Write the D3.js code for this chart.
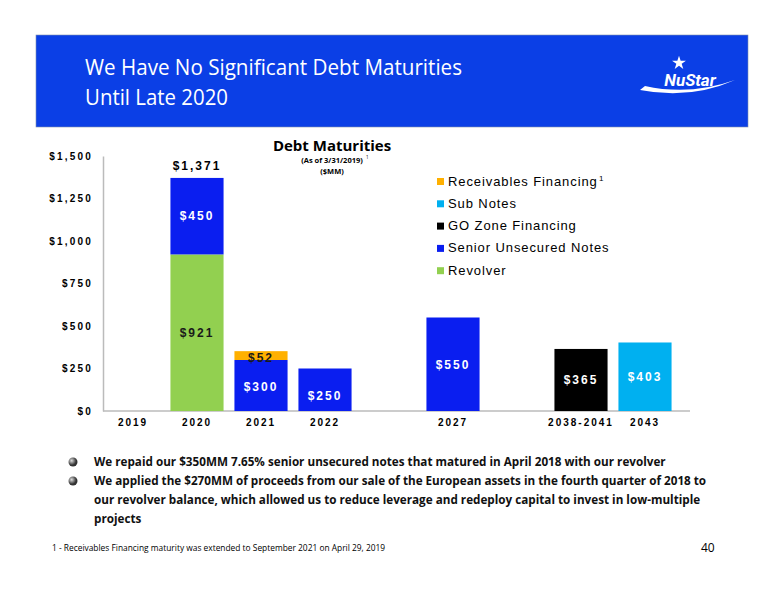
<!DOCTYPE html>
<html><head><meta charset="utf-8">
<script src="https://cdn.jsdelivr.net/npm/d3@7"></script>
<style>body{margin:0;background:#fff}svg{display:block}</style>
</head><body>
<script>
const categories = ["2019","2020","2021","2022","gap1","2027","gap2","2038-2041","2043"];
const seriesNames = ["Revolver","Senior Unsecured Notes","GO Zone Financing","Sub Notes","Receivables Financing"];
const revolver   = [0,921,0,0,0,0,0,0,0];
const senior     = [0,450,300,250,0,550,0,0,0];
const goZone     = [0,0,0,0,0,0,0,365,0];
const subNotes   = [0,0,0,0,0,0,0,0,403];
const receivables= [0,0,52,0,0,0,0,0,0];
const yTicks = [0,250,500,750,1000,1250,1500];
const colors = {"Revolver":"#92D050","Senior Unsecured Notes":"#0A1EF0","GO Zone Financing":"#000000","Sub Notes":"#00B0F0","Receivables Financing":"#FFB000"};
const seriesData = {"Revolver":revolver,"Senior Unsecured Notes":senior,"GO Zone Financing":goZone,"Sub Notes":subNotes,"Receivables Financing":receivables};

const W=776,H=600;
const svg=d3.select("body").append("svg").attr("width",W).attr("height",H);
svg.append("rect").attr("x",36).attr("y",35).attr("width",712).attr("height",92).attr("fill","#0B3FE6").attr("stroke","#7f8fb0").attr("stroke-width",0.6);
const ht=svg.append("text").attr("fill","#fff").attr("font-family","'Open Sans',sans-serif").attr("font-size",21);
ht.append("tspan").attr("x",85).attr("y",75).attr("textLength",377).attr("lengthAdjust","spacingAndGlyphs").text("We Have No Significant Debt Maturities");
ht.append("tspan").attr("x",85).attr("y",105).attr("textLength",143).attr("lengthAdjust","spacingAndGlyphs").text("Until Late 2020");
svg.append("text").attr("x",690).attr("y",86).attr("text-anchor","middle").attr("fill","#fff").attr("font-family","Roboto,sans-serif").attr("font-weight","bold").attr("font-style","italic").attr("font-size",17).text("NuStar");
svg.append("path").attr("d","M640,90 Q690,100 735,80 Q690,96 645,86 Z").attr("fill","#fff");
svg.append("path").attr("d",d3.symbol(d3.symbolStar,60)()).attr("transform","translate(679,63)").attr("fill","#fff");

const x=d3.scaleBand().domain(categories).range([101,677]).paddingInner(0.17).paddingOuter(0.085);
const y=d3.scaleLinear().domain([0,1500]).range([411,156]);
const g=svg.append("g");
const ya=g.append("g").attr("transform","translate(103,0)").call(d3.axisLeft(y).tickValues(yTicks).tickSize(0).tickFormat(d=>"$"+d3.format(",")(d)));
ya.select(".domain").attr("stroke","#bbb").attr("stroke-width",1.5);
ya.selectAll("text").attr("x",-10).attr("font-family","Arial,sans-serif").attr("font-weight","bold").attr("font-size",10).attr("letter-spacing",2.2).attr("fill","#000");
const xa=g.append("g").attr("transform","translate(0,411)").call(d3.axisBottom(x).tickSize(0).tickFormat(d=>d.startsWith("gap")?"":d));
xa.select(".domain").attr("stroke","#bbb").attr("stroke-width",1.5).attr("d","M103,0H690");
xa.selectAll("text").attr("dy",12).attr("font-family","Arial,sans-serif").attr("font-weight","bold").attr("font-size",10).attr("letter-spacing",2).attr("fill","#000");

const stack=d3.stack().keys(seriesNames)
  (categories.map((c,i)=>{const o={cat:c};seriesNames.forEach(s=>o[s]=seriesData[s][i]);return o;}));
stack.forEach(layer=>{
  g.selectAll(null).data(layer.filter(d=>d[1]>d[0])).enter().append("rect")
   .attr("x",d=>x(d.data.cat)).attr("width",x.bandwidth())
   .attr("y",d=>y(d[1])).attr("height",d=>y(d[0])-y(d[1])).attr("fill",colors[layer.key]);
});
const lab=(cx,cy,t,fill)=>g.append("text").attr("x",cx).attr("y",cy).attr("text-anchor","middle").attr("font-family","Arial,sans-serif").attr("font-weight","bold").attr("font-size",12).attr("letter-spacing",2).attr("fill",fill).text(t);
const cx=c=>x(c)+x.bandwidth()/2;
lab(cx("2020"),y(460)+4,"$921","#1a1a1a");
lab(cx("2020"),y(921+225)+4,"$450","#fff");
lab(cx("2020"),y(1371)-8,"$1,371","#000");
lab(cx("2021"),y(150)+5,"$300","#fff");
lab(cx("2021"),y(300)+2,"$52","#1a1a1a");
lab(cx("2022"),y(125)+10,"$250","#fff");
lab(cx("2027"),y(275)+5,"$550","#fff");
lab(cx("2038-2041"),y(183)+4,"$365","#fff");
lab(cx("2043"),y(200)+4,"$403","#fff");

svg.append("text").attr("x",332).attr("y",151).attr("text-anchor","middle").attr("font-family","'Open Sans',sans-serif").attr("font-weight","bold").attr("font-size",15).text("Debt Maturities");
svg.append("text").attr("x",332).attr("y",163).attr("text-anchor","middle").attr("font-family","'Open Sans',sans-serif").attr("font-weight","bold").attr("font-size",7.5).text("(As of 3/31/2019)");
svg.append("text").attr("x",366).attr("y",159).attr("font-family","'Open Sans',sans-serif").attr("font-size",4.5).text("1");
svg.append("text").attr("x",332).attr("y",174).attr("text-anchor","middle").attr("font-family","'Open Sans',sans-serif").attr("font-weight","bold").attr("font-size",7.5).text("($MM)");

const leg=["Receivables Financing","Sub Notes","GO Zone Financing","Senior Unsecured Notes","Revolver"];
leg.forEach((s,i)=>{
  const yy=184+i*22.3;
  svg.append("rect").attr("x",437).attr("y",yy-6).attr("width",7).attr("height",7).attr("fill",colors[s]);
  svg.append("text").attr("x",448).attr("y",yy+1.5).attr("font-family","Arial,sans-serif").attr("font-size",13).attr("letter-spacing",0.9).attr("fill","#000").text(s);
});
svg.append("text").attr("x",599).attr("y",181).attr("font-family","Arial,sans-serif").attr("font-size",8).text("1");

const bullets=[["We repaid our $350MM 7.65% senior unsecured notes that matured in April 2018 with our revolver"],
["We applied the $270MM of proceeds from our sale of the European assets in the fourth quarter of 2018 to","our revolver balance, which allowed us to reduce leverage and redeploy capital to invest in low-multiple","projects"]];
let by=466;
bullets.forEach(b=>{
  const gr=svg.append("defs").append("radialGradient").attr("id","bg"+by).attr("cx","35%").attr("cy","35%");
  gr.append("stop").attr("offset","0%").attr("stop-color","#ddd");
  gr.append("stop").attr("offset","100%").attr("stop-color","#333");
  svg.append("circle").attr("cx",73).attr("cy",by-4).attr("r",4.5).attr("fill","url(#bg"+by+")");
  b.forEach(line=>{
    svg.append("text").attr("x",94).attr("y",by).attr("font-family","'Open Sans',sans-serif").attr("font-weight","bold").attr("font-size",11.7).attr("fill","#111").text(line);
    by+=19;
  });
});
svg.append("text").attr("x",52).attr("y",551).attr("font-family","'Open Sans',sans-serif").attr("font-size",8.4).text("1 - Receivables Financing maturity was extended to September 2021 on April 29, 2019");
svg.append("text").attr("x",701).attr("y",552).attr("font-family","'Open Sans',sans-serif").attr("font-size",12).text("40");
</script>
</body></html>
